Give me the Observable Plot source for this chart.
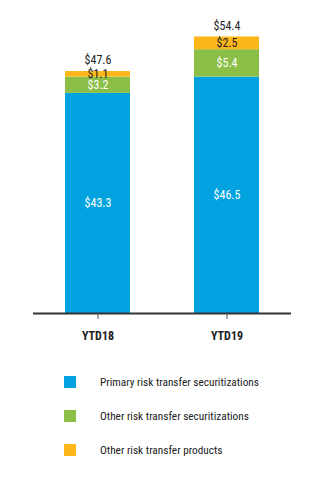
<!DOCTYPE html>
<html>
<head>
<meta charset="utf-8">
<script src="https://cdn.jsdelivr.net/npm/d3@7"></script>
<script src="https://cdn.jsdelivr.net/npm/@observablehq/plot@0.6"></script>
<style>
  html, body { margin: 0; padding: 0; background: #fff; }
  body { width: 318px; font-family: "Liberation Sans Narrow", "Roboto Condensed", Roboto, "Liberation Sans", sans-serif; font-stretch: condensed; }
  #legend { margin-top: 28px; padding-left: 64px; }
  .item { display: flex; align-items: center; height: 12px; margin-bottom: 22px; font-size: 11.3px; color: #222; }
  .sw { width: 12px; height: 12px; margin-right: 24px; flex: none; }
</style>
</head>
<body>
<div id="chart"></div>
<div id="legend"></div>
<script>
const periods = ["YTD18", "YTD19"];
const series = ["Primary risk transfer securitizations", "Other risk transfer securitizations", "Other risk transfer products"];
const colors = ["#00a3e0", "#8bbf48", "#fdb71a"];
const labelColors = ["#ffffff", "#ffffff", "#222222"];
const primary = [43.3, 46.5];
const otherSec = [3.2, 5.4];
const otherProd = [1.1, 2.5];
const totals = [47.6, 54.4];

const values = [primary, otherSec, otherProd];
const data = [];
periods.forEach((p, i) => series.forEach((s, j) => data.push({period: p, series: s, value: values[j][i], label: "$" + values[j][i].toFixed(1), lc: labelColors[j]})));
const totalData = periods.map((p, i) => ({period: p, total: totals[i], label: "$" + totals[i].toFixed(1)}));

const font = '"Liberation Sans Narrow", "Roboto Condensed", Roboto, "Liberation Sans", sans-serif';

const chart = Plot.plot({
  width: 318,
  height: 348,
  marginLeft: 33,
  marginRight: 27,
  marginTop: 8,
  marginBottom: 35,
  style: {fontFamily: font, fontSize: "12px", background: "#fff"},
  x: {domain: periods, paddingInner: 0.5, paddingOuter: 0.25, label: null},
  y: {domain: [0, 60], axis: null},
  color: {domain: series, range: colors},
  marks: [
    Plot.barY(data, Plot.stackY({x: "period", y: "value", fill: "series", order: series})),
    Plot.text(data, Plot.stackY({x: "period", y: "value", z: "series", order: series, text: "label", fill: "lc", fontSize: 12})),
    Plot.text(totalData, {x: "period", y: "total", text: "label", dy: -11, fill: "#222", fontSize: 12}),
    Plot.ruleY([0], {stroke: "#333", strokeWidth: 2}),
    Plot.axisX({tickSize: 6, tickPadding: 12, stroke: "#555", fontWeight: "bold", fontSize: 12, fill: "#222", label: null})
  ]
});
document.getElementById("chart").append(chart);

const legend = document.getElementById("legend");
series.forEach((s, j) => {
  const it = document.createElement("div");
  it.className = "item";
  it.innerHTML = `<span class="sw" style="background:${colors[j]}"></span><span>${s}</span>`;
  legend.append(it);
});
</script>
</body>
</html>
